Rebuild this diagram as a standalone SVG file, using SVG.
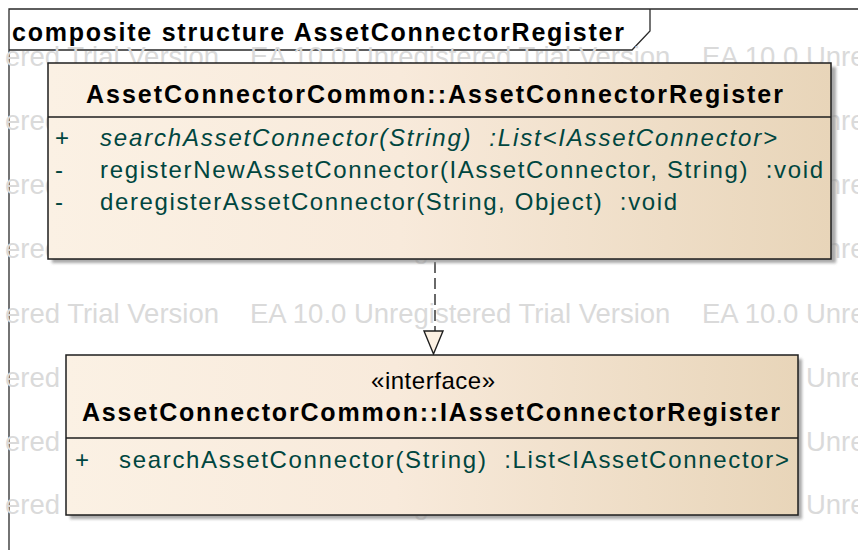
<svg xmlns="http://www.w3.org/2000/svg" width="858" height="550" viewBox="0 0 858 550">
  <defs>
    <linearGradient id="classFill" x1="0" y1="0" x2="1" y2="0">
      <stop offset="0" stop-color="#fbf1e4"/>
      <stop offset="0.45" stop-color="#f8eadb"/>
      <stop offset="1" stop-color="#e8d5b9"/>
    </linearGradient>
    <filter id="soft" x="-5%" y="-5%" width="110%" height="110%">
      <feGaussianBlur stdDeviation="1.5"/>
    </filter>
  </defs>
  <style>
    .frame { fill: none; stroke: #2a2a2a; stroke-width: 1.3; }
    .mark { font-family: "Liberation Sans", Arial, sans-serif; font-size: 27.5px; fill: #dadada; }
    .box { fill: url(#classFill); stroke: #1e1e1e; stroke-width: 1.5; }
    .shadow { fill: #8c8c8c; opacity: 0.75; filter: url(#soft); }
    .sep { stroke: #1e1e1e; stroke-width: 1.3; }
    .title { font-family: "Liberation Sans", Arial, sans-serif; font-weight: bold; font-size: 25px; fill: #000; }
    .stereo { font-family: "Liberation Sans", Arial, sans-serif; font-size: 24px; fill: #000; }
    .op { font-family: "Liberation Sans", Arial, sans-serif; font-size: 24px; fill: #00463f; white-space: pre; }
    .abstract { font-style: italic; }
    .dep { fill: none; stroke: #2a2a2a; stroke-width: 1.4; stroke-dasharray: 11 5; }
    .head { fill: #fcf1e3; stroke: #1e1e1e; stroke-width: 1.4; }
  </style>

  <rect width="858" height="550" fill="#ffffff"/>

  <!-- diagram frame with name tab -->
  <g id="frame">
    <path class="frame" d="M9,560 V9 H870"/>
    <path class="frame" d="M9,50 H632 L650,31 V9"/>
    <text class="title" x="12" y="41" textLength="612">composite structure AssetConnectorRegister</text>
  </g>

  <!-- evaluation watermark rows -->
  <g id="watermark" class="mark">
    <text y="66"><tspan x="5">ered Trial Version</tspan><tspan x="250">EA 10.0 Unregistered Trial Version</tspan><tspan x="702">EA 10.0 Unre</tspan></text>
    <text y="130"><tspan x="5">ered Trial Version</tspan><tspan x="250">EA 10.0 Unregistered Trial Version</tspan><tspan x="702">EA 10.0 Unre</tspan></text>
    <text y="194"><tspan x="5">ered Trial Version</tspan><tspan x="250">EA 10.0 Unregistered Trial Version</tspan><tspan x="702">EA 10.0 Unre</tspan></text>
    <text y="258"><tspan x="5">ered Trial Version</tspan><tspan x="250">EA 10.0 Unregistered Trial Version</tspan><tspan x="702">EA 10.0 Unre</tspan></text>
    <text y="323"><tspan x="5">ered Trial Version</tspan><tspan x="250">EA 10.0 Unregistered Trial Version</tspan><tspan x="702">EA 10.0 Unre</tspan></text>
    <text y="387"><tspan x="5">ered Trial Version</tspan><tspan x="250">EA 10.0 Unregistered Trial Version</tspan><tspan x="702">EA 10.0 Unre</tspan></text>
    <text y="451"><tspan x="5">ered Trial Version</tspan><tspan x="250">EA 10.0 Unregistered Trial Version</tspan><tspan x="702">EA 10.0 Unre</tspan></text>
    <text y="514"><tspan x="5">ered Trial Version</tspan><tspan x="250">EA 10.0 Unregistered Trial Version</tspan><tspan x="702">EA 10.0 Unre</tspan></text>
  </g>

  <!-- realization: class to interface -->
  <g id="connectors">
    <line class="dep" x1="435" y1="262" x2="435" y2="331"/>
    <polygon class="head" points="424,331 443,331 433.5,354"/>
  </g>

  <!-- class AssetConnectorRegister -->
  <g id="AssetConnectorRegister">
    <rect class="shadow" x="52" y="67" width="784" height="196"/>
    <rect class="box" x="48" y="63" width="783" height="196"/>
    <line class="sep" x1="48" y1="117" x2="831" y2="117"/>
    <text class="title" x="86" y="103" textLength="697">AssetConnectorCommon::AssetConnectorRegister</text>
    <text class="op" x="55" y="146">+</text>
    <text class="op abstract" x="100" y="146" textLength="677" xml:space="preserve">searchAssetConnector(String)  :List&lt;IAssetConnector&gt;</text>
    <text class="op" x="55" y="178">-</text>
    <text class="op" x="100" y="178" textLength="723" xml:space="preserve">registerNewAssetConnector(IAssetConnector, String)  :void</text>
    <text class="op" x="55" y="210">-</text>
    <text class="op" x="100" y="210" textLength="577" xml:space="preserve">deregisterAssetConnector(String, Object)  :void</text>
  </g>

  <!-- interface IAssetConnectorRegister -->
  <g id="IAssetConnectorRegister">
    <rect class="shadow" x="70" y="359" width="732" height="160"/>
    <rect class="box" x="66" y="355" width="732" height="160"/>
    <line class="sep" x1="66" y1="438" x2="798" y2="438"/>
    <text class="stereo" x="433" y="389" text-anchor="middle" textLength="124">«interface»</text>
    <text class="title" x="82" y="421" textLength="698">AssetConnectorCommon::IAssetConnectorRegister</text>
    <text class="op" x="75" y="468">+</text>
    <text class="op" x="119" y="468" textLength="670" xml:space="preserve">searchAssetConnector(String)  :List&lt;IAssetConnector&gt;</text>
  </g>
</svg>
